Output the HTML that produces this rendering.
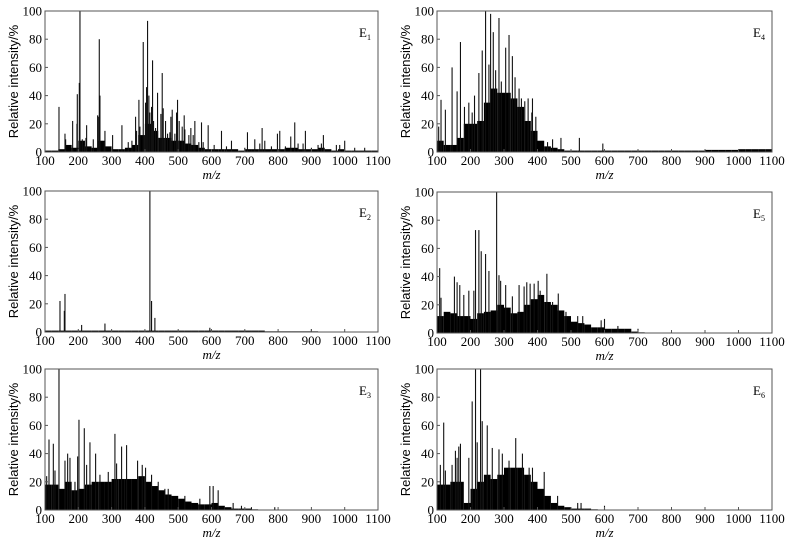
<!DOCTYPE html>
<html><head><meta charset="utf-8"><style>
html,body{margin:0;padding:0;background:#fff;}
svg{display:block;font-family:"Liberation Serif",serif;}
</style></head><body>
<svg id="c" width="795" height="543" viewBox="0 0 795 543" xmlns="http://www.w3.org/2000/svg"></svg>
<script>
const xTicks=[100,200,300,400,500,600,700,800,900,1000,1100];
const yTicks=[0,20,40,60,80,100];
const binStarts=[100,120,140,160,180,200,220,240,260,280,300,320,340,360,380,400,420,440,460,480,500,520,540,560,580,600,620,640,660,680,700,720,740,760,780,800,820,840,860,880,900,920,940,960,980,1000,1020,1040,1060,1080];
const e1Env=[1,1,2,5,3,8,4,3,8,4,2,2,3,5,12,20,15,10,10,8,8,6,5,3,2,2,2,2,2,1,2,2,2,2,2,2,3,3,2,2,2,3,2,1,2,1,1,1,1,1];
const e1Mz=[142,160,162,183,196,197,203,205,212,218,223,225,245,258,260,263,265,278,280,303,331,350,361,372,375,382,385,395,402,405,408,412,415,420,423,426,432,438,442,448,452,455,462,468,475,478,482,490,495,498,503,512,518,520,532,538,545,550,562,570,575,590,608,630,645,660,700,708,730,745,752,760,780,798,805,822,838,850,860,875,882,900,920,930,936,975,985,1000,1030,1060];
const e1Int=[32,13,9,22,20,41,49,100,9,5,10,19,9,26,25,80,40,7,15,12,19,7,8,25,15,37,18,78,35,46,93,40,28,32,65,22,17,42,10,27,56,31,22,13,14,25,30,13,28,37,22,18,26,16,12,17,12,22,7,21,7,19,5,15,4,8,3,14,9,6,17,8,4,13,15,4,11,21,6,6,15,3,5,6,12,5,5,8,3,3];
const e2Env=[1,1,1,1,1,1,1,1,1,1,1,1,1,1,1,1,1,1,1,1,1,1,1,1,1,1,1,1,1,1,1,1,1,0.5,0.5,0.5,0.5,0.5,0.5,0.5,0.5,0,0,0,0,0,0,0,0,0];
const e2Mz=[145,158,160,210,280,415,420,430,595,900];
const e2Int=[22,15,27,5,6,100,22,10,3,2];
const e3Env=[18,18,15,20,14,15,18,20,20,20,22,22,22,22,24,20,17,14,11,10,8,6,5,4,4,5,3,2,1,1,1,0.5,0,0,0,0,0,0,0,0,0,0,0,0,0,0,0,0,0,0];
const e3Mz=[105,112,125,130,142,160,168,175,190,198,202,218,225,235,252,265,290,310,315,330,345,378,392,402,420,440,460,470,520,565,595,605,620,665,690,720,790];
const e3Int=[24,50,47,28,100,35,40,37,20,38,64,58,32,48,40,25,27,54,33,45,46,35,32,30,25,20,15,15,10,8,17,17,14,5,3,2,2];
const e4Env=[8,5,5,10,20,20,22,35,45,42,42,38,32,22,15,8,4,3,2,1,1,1,1,1,1,1,1,1,1,1,1,1,1,1,1,1,1,1,1,1,1.5,1.5,1.5,1.5,1.5,2,2,2,2,2];
const e4Mz=[105,112,125,145,160,170,182,195,205,212,225,235,245,255,260,268,275,285,292,305,315,325,333,345,352,362,372,383,385,395,430,445,470,525,595];
const e4Int=[18,37,30,60,43,78,32,35,28,40,56,72,100,62,98,85,58,95,50,74,83,68,53,45,38,36,38,28,38,25,7,9,10,10,6];
const e5Env=[12,15,14,12,12,10,14,15,16,20,18,14,15,20,24,27,22,20,16,12,8,7,6,4,4,3,3,3,3,1,0.5,0,0,0,0,0,0,0,0,0,0,0,0,0,0,0,0,0,0,0];
const e5Mz=[108,112,152,160,168,180,195,210,215,225,232,245,255,278,285,290,305,325,345,360,368,378,390,402,408,428,445,462,485,520,535,590,600,640,700];
const e5Int=[46,25,40,36,34,27,30,30,73,73,58,56,44,100,41,37,34,26,34,33,36,35,35,37,30,42,22,28,15,12,12,9,10,5,3];
const e6Env=[18,18,20,20,5,15,20,25,22,25,30,30,30,25,20,15,10,5,3,2,1,1,1,0.5,0,0,0,0,0,0,0,0,0,0,0,0,0,0,0,0,0,0,0,0,0,0,0,0,0,0];
const e6Mz=[110,120,125,145,155,160,165,170,195,205,215,220,230,235,250,265,285,295,315,335,355,375,385,420,460,520,530,600];
const e6Int=[32,62,28,32,42,37,45,47,37,77,100,48,100,63,60,44,43,40,35,51,40,30,30,27,10,5,5,3];

const panels=[
 {id:'e1',sub:'1',x0:45,x1:378,yTop:11,yBot:152,env:e1Env,mz:e1Mz,it:e1Int},
 {id:'e2',sub:'2',x0:45,x1:378,yTop:191,yBot:332,env:e2Env,mz:e2Mz,it:e2Int},
 {id:'e3',sub:'3',x0:45,x1:378,yTop:369,yBot:510,env:e3Env,mz:e3Mz,it:e3Int},
 {id:'e4',sub:'4',x0:437,x1:772,yTop:11,yBot:152,env:e4Env,mz:e4Mz,it:e4Int},
 {id:'e5',sub:'5',x0:437,x1:772,yTop:192,yBot:333,env:e5Env,mz:e5Mz,it:e5Int},
 {id:'e6',sub:'6',x0:437,x1:772,yTop:369,yBot:510,env:e6Env,mz:e6Mz,it:e6Int}
];
const NS='http://www.w3.org/2000/svg';
const svg=document.getElementById('c');
function mk(tag,attrs,parent){const e=document.createElementNS(NS,tag);for(const k in attrs)e.setAttribute(k,attrs[k]);parent.appendChild(e);return e;}
panels.forEach(p=>{
  const g=mk('g',{},svg);
  
  
  const sx=v=>p.x0+(v-100)/1000*(p.x1-p.x0);
  const sy=v=>p.yBot-v/100*(p.yBot-p.yTop);
  // envelope
  binStarts.forEach((b,i)=>{
    const v=p.env[i]; if(!v) return;
    const r=mk('rect',{x:sx(b),y:sy(v),width:sx(b+20)-sx(b),height:p.yBot-sy(v),fill:'#000'},g);
    
    
  });
  // peaks
  p.mz.forEach((m,i)=>{
    const l=mk('line',{x1:sx(m),x2:sx(m),y1:p.yBot,y2:sy(p.it[i]),stroke:'#111','stroke-width':1.1},g);
    
    
  });
  const fr=mk('rect',{x:p.x0,y:p.yTop,width:p.x1-p.x0,height:p.yBot-p.yTop,fill:'none',stroke:'#555','stroke-width':1},g);
  
  
  yTicks.forEach(t=>{
    mk('line',{x1:p.x0,x2:p.x0+3,y1:sy(t),y2:sy(t),stroke:'#555'},g);
    const tx=mk('text',{x:p.x0-3,y:sy(t)+4.5,'text-anchor':'end','font-size':13},g);
    tx.textContent=t;
    
    
  });
  xTicks.forEach(t=>{
    mk('line',{x1:sx(t),x2:sx(t),y1:p.yBot,y2:p.yBot-3,stroke:'#555'},g);
    const tx=mk('text',{x:sx(t),y:p.yBot+13,'text-anchor':'middle','font-size':13},g);
    tx.textContent=t;
    
    
  });
  const xt=mk('text',{x:(p.x0+p.x1)/2,y:p.yBot+27,'text-anchor':'middle','font-size':13,'font-style':'italic'},g);
  xt.textContent='m/z';
  
  
  const yc=(p.yTop+p.yBot)/2, yx=p.x0-27;
  const yt=mk('text',{x:yx,y:yc,'text-anchor':'middle','font-size':13,transform:`rotate(-90 ${yx} ${yc})`,'font-family':'Liberation Sans, sans-serif'},g);
  yt.textContent='Relative intensity/%';
  
  
  const lb=mk('text',{x:p.x1-19,y:p.yTop+26,'font-size':13},g);
  lb.textContent='E';
  const s=mk('tspan',{'font-size':8,dy:3},lb);
  s.textContent=p.sub;
  
  
});
</script>
</body></html>
